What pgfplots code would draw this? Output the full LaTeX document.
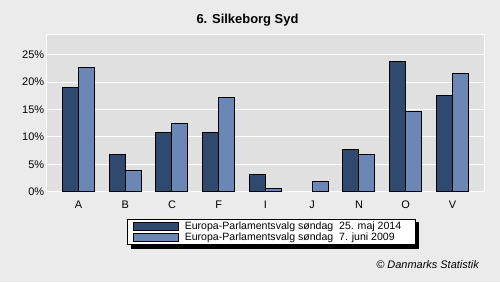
\documentclass[border=0pt]{standalone}
\usepackage{pgfplots}
\pgfplotsset{compat=1.18}
\usepackage{fontspec}
\setmainfont{Liberation Sans}
\usetikzlibrary{backgrounds}
\definecolor{bg}{HTML}{EBEBEB}
\definecolor{plotbg}{HTML}{E0E0E0}
\definecolor{darkb}{HTML}{2F4A6E}
\definecolor{lightb}{HTML}{6B87B5}
\begin{document}
\begin{tikzpicture}[x=1bp,y=1bp]
\begin{scope}[on background layer]
\fill[bg] (0,0) rectangle (500,282);
\end{scope}
\useasboundingbox (0,0) rectangle (500,282);
\node[font=\fontsize{13}{15}\selectfont\bfseries] at (247.5,262) {6. Silkeborg Syd};
\node[font=\fontsize{11}{13}\selectfont\itshape, anchor=east, inner sep=0] at (479,17) {© Danmarks Statistik};
\begin{axis}[
  at={(46.7bp,90.3bp)}, anchor=south west,
  scale only axis, width=438bp, height=156.7bp,
  axis background/.style={fill=plotbg},
  xmin=-0.68, xmax=8.69, ymin=0, ymax=28.6,
  xtick={0,...,8}, xticklabels={A,B,C,F,I,J,N,O,V},
  ytick={0,5,10,15,20,25}, yticklabel={\pgfmathprintnumber{\tick}\%},
  /pgf/number format/assume math mode=true,
  tick style={draw=none},
  ticklabel style={font=\fontsize{11}{13}\selectfont},
  yticklabel style={xshift=1bp},
  xticklabel style={yshift=-1bp},
  ymajorgrids, grid style={white, line width=1bp},
  axis line style={white, line width=1bp},
  ybar, bar width=16bp,
  legend style={name=leg, at={(axis description cs:0.184,-0.174)}, anchor=north west,
    draw=black, line width=1bp, fill=white,
    font=\fontsize{10.6}{12}\selectfont, inner xsep=5bp, inner ysep=2.5bp,
    row sep=2.2bp, cells={anchor=west},
    nodes={inner sep=0pt},
    /tikz/every odd column/.append style={column sep=6bp}},
  legend image code/.code={\draw[#1, line width=1bp] (0bp,-4bp) rectangle (45bp,4bp);},
]
\addplot[draw=black, line width=1bp, fill=darkb, bar shift=-8bp] coordinates {
(0,19.05) (1,6.8) (2,10.8) (3,10.8) (4,3.2) (6,7.7) (7,23.8) (8,17.6)};
\addplot[draw=black, line width=1bp, fill=lightb, bar shift=8bp] coordinates {
(0,22.7) (1,3.9) (2,12.5) (3,17.2) (4,0.6) (5,1.9) (6,6.8) (7,14.7) (8,21.6)};
\legend{Europa-Parlamentsvalg søndag\ \ 25. maj 2014\hspace*{9bp}, Europa-Parlamentsvalg søndag\ \ 7. juni 2009}
\end{axis}
\begin{scope}[on background layer]
\fill[black] ([shift={(3.5bp,-3.5bp)}]leg.south west) rectangle ([shift={(3.5bp,-3.5bp)}]leg.north east);
\end{scope}
\end{tikzpicture}
\end{document}
